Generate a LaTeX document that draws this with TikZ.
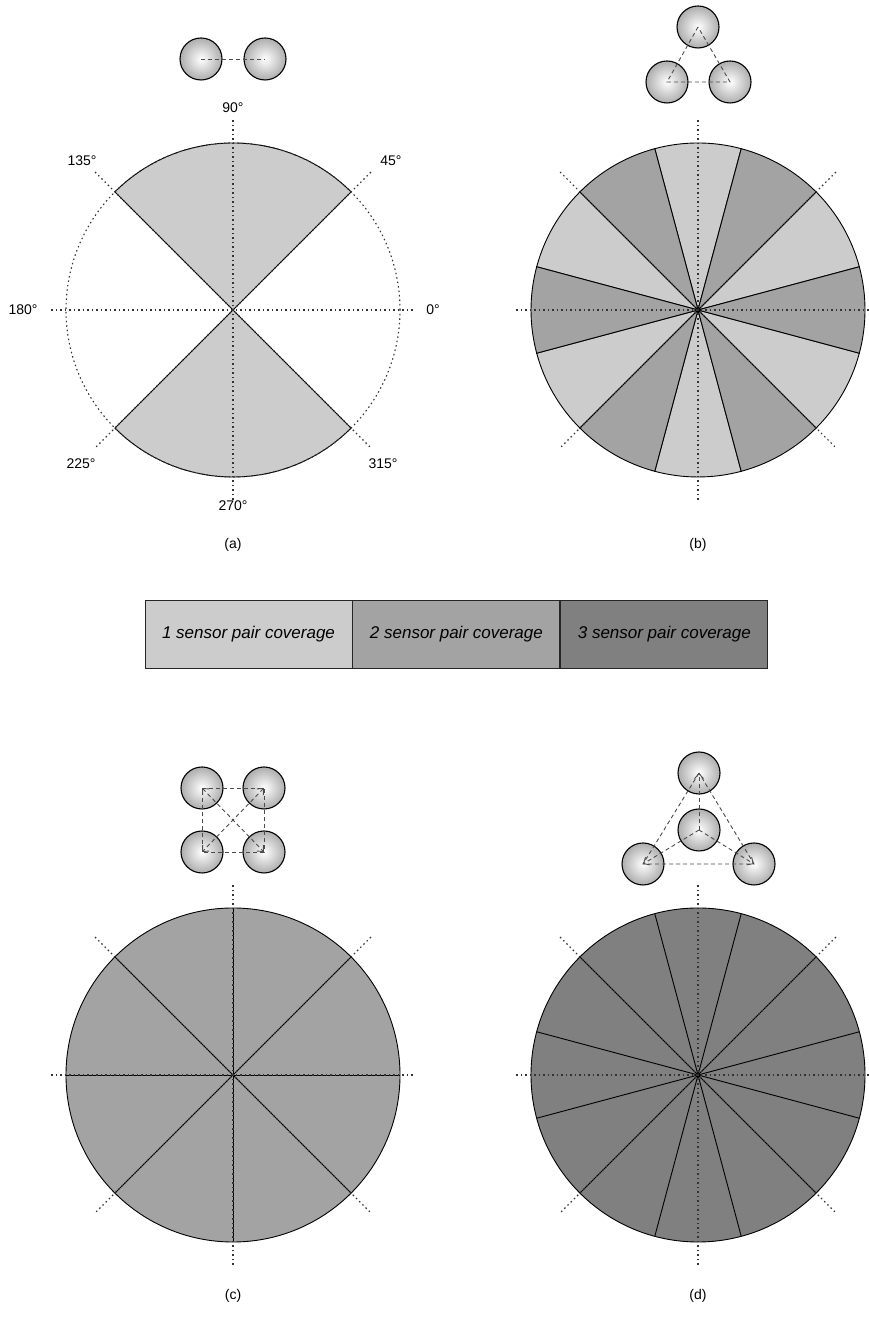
\documentclass[tikz,border=0pt]{standalone}
\usepackage{fontspec}
\setmainfont{Liberation Sans}
\usetikzlibrary{arrows.meta, positioning, calc}
\definecolor{onepair}{gray}{0.8}
\definecolor{twopair}{gray}{0.64}
\definecolor{threepair}{gray}{0.5}

\begin{document}
\begin{tikzpicture}[x=1pt, y=1pt,
    axis/.style={dash pattern=on 1.5pt off 3pt, line width=1.1pt, black!80},
    sector/.style={draw=black, line width=0.9pt},
    sensor/.style={circle, draw=black, line width=1.1pt, minimum size=42pt, inner sep=0pt,
        inner color=white, outer color=black!32},
    link/.style={dash pattern=on 4pt off 3pt, line width=0.9pt, black!70},
    onetip/.style={link, -{Straight Barb[length=5pt, width=9pt]}},
    twotips/.style={link, {Straight Barb[length=5pt, width=9pt]}-{Straight Barb[length=5pt, width=9pt]}},
    deg/.style={font=\fontsize{14}{16}\selectfont},
    legendbox/.style={draw=black!85, line width=0.9pt, minimum width=207pt, minimum height=68pt,
        inner sep=0pt, font=\fontsize{17}{20}\selectfont\itshape}
]
    \useasboundingbox (0,0) rectangle (868,1321);

    % panel centres
    \coordinate (ca) at (233,1011);
    \coordinate (cb) at (698,1011);
    \coordinate (cc) at (233,246);
    \coordinate (cd) at (698,246);

    % (a) one sensor pair
    \filldraw[sector, fill=onepair] (ca) -- ++(45:167) arc[start angle=45, end angle=135, radius=167pt] -- cycle;
    \filldraw[sector, fill=onepair] (ca) -- ++(225:167) arc[start angle=225, end angle=315, radius=167pt] -- cycle;
    \draw[axis] (ca) circle[radius=167pt];

    % (b) three sensors in a triangle
    \foreach \a in {15,75,...,315}
        \filldraw[sector, fill=onepair] (cb) -- ++(\a:167) arc[start angle=\a, delta angle=30, radius=167pt] -- cycle;
    \foreach \a in {45,105,...,345}
        \filldraw[sector, fill=twopair] (cb) -- ++(\a:167) arc[start angle=\a, delta angle=30, radius=167pt] -- cycle;

    % (c) four sensors in a square
    \filldraw[sector, fill=twopair] (cc) circle[radius=167pt];
    \foreach \a in {0,45,...,315}
        \draw[sector] (cc) -- ++(\a:167);

    % (d) four sensors, one in the middle
    \filldraw[sector, fill=threepair] (cd) circle[radius=167pt];
    \foreach \a in {15,45,...,345}
        \draw[sector] (cd) -- ++(\a:167);

    % dotted axes
    \foreach \c in {ca,cb,cc,cd} {
        \draw[axis] ($(\c)+(-182,0)$) -- ($(\c)+(182,0)$);
        \draw[axis] ($(\c)+(0,-190)$) -- ($(\c)+(0,192)$);
        \draw[axis] ($(\c)+(45:195)$) -- ($(\c)+(225:195)$);
        \draw[axis] ($(\c)+(135:195)$) -- ($(\c)+(315:195)$);
    }

    % angle labels
    \node[deg] (d0) at (433,1011) {0°};
    \node[deg] (d45) at (391,1160) {45°};
    \node[deg] (d90) at (233,1213) {90°};
    \node[deg] (d135) at (82,1160) {135°};
    \node[deg] (d180) at (23,1011) {180°};
    \node[deg] (d225) at (81,857) {225°};
    \node[deg] (d270) at (233,815) {270°};
    \node[deg] (d315) at (383,857) {315°};

    % sensor layouts
    \node[sensor] (sa1) at (201,1262) {};
    \node[sensor] (sa2) at (265,1262) {};
    \draw[link] (sa1.center) -- (sa2.center);

    \node[sensor] (sb1) at (698,1294) {};
    \node[sensor] (sb2) at (667,1239) {};
    \node[sensor] (sb3) at (730,1239) {};
    \draw[link] (sb1.center) -- (sb2.center) -- (sb3.center) -- cycle;

    \node[sensor] (sc1) at (202,533) {};
    \node[sensor] (sc2) at (264,533) {};
    \node[sensor] (sc3) at (202,469) {};
    \node[sensor] (sc4) at (264,469) {};
    \draw[link] (sc1.center) -- (sc2.center) -- (sc4.center) -- (sc3.center) -- cycle;
    \draw[twotips] (sc1.center) -- (sc4.center);
    \draw[twotips] (sc2.center) -- (sc3.center);

    \node[sensor] (sd1) at (699,548) {};
    \node[sensor] (sd2) at (643,457) {};
    \node[sensor] (sd3) at (754,457) {};
    \node[sensor] (sd0) at (699,491) {};
    \draw[link] (sd1.center) -- (sd2.center) -- (sd3.center) -- cycle;
    \draw[onetip] (sd0.center) -- (sd1.center);
    \draw[onetip] (sd0.center) -- (sd2.center);
    \draw[onetip] (sd0.center) -- (sd3.center);

    % panel captions
    \node[deg] (capa) at (233,776) {(a)};
    \node[deg] (capb) at (698,776) {(b)};
    \node[deg] (capc) at (233,25) {(c)};
    \node[deg] (capd) at (698,25) {(d)};

    % legend
    \node[legendbox, fill=onepair] (leg1) at (248.5,687) {1 sensor pair coverage};
    \node[legendbox, fill=twopair, right=0pt of leg1] (leg2) {2 sensor pair coverage};
    \node[legendbox, fill=threepair, right=0pt of leg2] (leg3) {3 sensor pair coverage};
\end{tikzpicture}
\end{document}
